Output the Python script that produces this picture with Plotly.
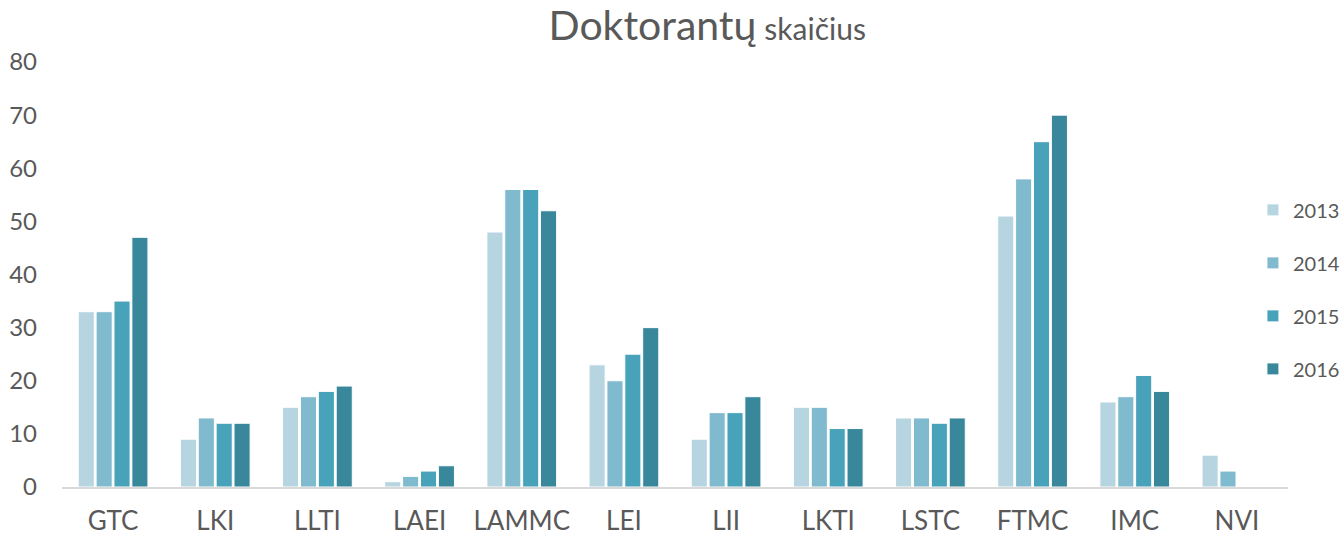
import plotly.graph_objects as go

categories = ["GTC", "LKI", "LLTI", "LAEI", "LAMMC", "LEI", "LII", "LKTI", "LSTC", "FTMC", "IMC", "NVI"]
years = ["2013", "2014", "2015", "2016"]
v2013 = [33, 9, 15, 1, 48, 23, 9, 15, 13, 51, 16, 6]
v2014 = [33, 13, 17, 2, 56, 20, 14, 15, 13, 58, 17, 3]
v2015 = [35, 12, 18, 3, 56, 25, 14, 11, 12, 65, 21, None]
v2016 = [47, 12, 19, 4, 52, 30, 17, 11, 13, 70, 18, None]
series = [v2013, v2014, v2015, v2016]
colors = ["#B7D5E0", "#7FBACE", "#48A2BA", "#38879A"]

FONT = "Lato"
fig = go.Figure()
for i, (name, vals) in enumerate(zip(years, series)):
    fig.add_trace(go.Bar(
        x=categories, y=vals, name=name,
        marker=dict(color=colors[i], line=dict(color="white", width=1)),
        legendgroup=name,
    ))

fig.update_layout(
    width=1342, height=537,
    margin=dict(l=62, r=54, t=62, b=50, autoexpand=False),
    paper_bgcolor="white", plot_bgcolor="white",
    barmode="group", bargap=0.3, bargroupgap=0.1,
    font=dict(family=FONT, color="#595959", size=22),
    title=dict(
        text="<span style='font-size:41px'>Doktorantų</span> <span style='font-size:30px'>skaičius</span>",
        x=0.527, xanchor="center", y=0.945, yanchor="middle",
        font=dict(family=FONT, color="#595959"),
        automargin=False,
    ),
    legend=dict(
        x=0.9714, xanchor="left", y=0.465, yanchor="middle",
        font=dict(size=20, color="#595959"),
        tracegroupgap=24, itemwidth=30,
        bgcolor="rgba(0,0,0,0)",
    ),
    showlegend=True,
)
fig.update_xaxes(
    showgrid=False, showline=True, linecolor="#D9D9D9", linewidth=2,
    ticks="", ticklabelstandoff=10, tickfont=dict(size=26, color="#595959"),
    automargin=False,
)
fig.update_yaxes(
    range=[0, 80], dtick=10, showgrid=False, showline=False, zeroline=False,
    ticks="", ticklabelstandoff=24, tickfont=dict(size=24, color="#595959"),
    automargin=False,
)

fig.write_html("out.html", config={"displayModeBar": False},
               post_script="document.body.style.margin='0';")
